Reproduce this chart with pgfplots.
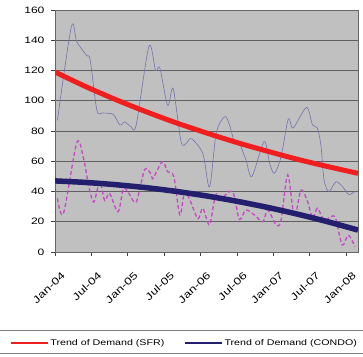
\documentclass[border=0pt]{standalone}
\usepackage{fontspec}
\setmainfont{Liberation Sans}[FakeStretch=1.3]
\usepackage{pgfplots}
\pgfplotsset{compat=1.18}
\definecolor{bgc}{RGB}{192,192,192}
\definecolor{gridc}{RGB}{95,95,95}
\definecolor{sfrc}{RGB}{115,115,175}
\definecolor{condoc}{RGB}{200,70,200}
\definecolor{trsfr}{RGB}{240,30,30}
\definecolor{trcondo}{RGB}{35,30,110}
\begin{document}
\begin{tikzpicture}[x=1pt,y=1pt]
\useasboundingbox (0,0) rectangle (363,356);
\begin{axis}[
  at={(55pt,104pt)}, anchor=south west,
  scale only axis, width=303pt, height=242pt,
  xmin=0, xmax=50, ymin=0, ymax=160,
  ytick={0,20,...,160},
  xtick={0,6,...,48},
  xticklabels={Jan-04,Jul-04,Jan-05,Jul-05,Jan-06,Jul-06,Jan-07,Jul-07,Jan-08},
  axis background/.style={fill=bgc},
  ymajorgrids,
  major grid style={color=gridc, line width=0.8pt},
  axis line style={draw=gray!80!black, line width=0.8pt},
  tick align=outside, xtick pos=bottom, ytick pos=left,
  major tick length=4pt,
  tick style={color=gray!50!black, line width=0.6pt},
  tick label style={font=\fontsize{9.3}{11}\selectfont},
  /pgf/number format/assume math mode=true,
  yticklabel style={xshift=-3pt},
  xticklabel style={font=\fontsize{10}{12}\selectfont, xshift=11pt, yshift=-16pt, rotate=43, anchor=east},
  legend columns=2,
  legend style={at={(rel axis cs:-0.155,-0.376)}, anchor=west,
    draw=none, fill=none, inner xsep=2pt, inner ysep=0pt,
    font=\fontsize{8.2}{10}\selectfont,
    /tikz/every even column/.append style={column sep=18pt}},
  legend image code/.code={\draw[#1,line width=1.2pt] (0pt,0pt) -- (37pt,0pt);},
]
\addplot[sfrc, line width=0.6pt, smooth, tension=0.5, forget plot] coordinates {
(0.4,87) (2.7,149) (3.6,139) (5.2,130) (5.8,127) (6.9,94) (7.8,92) (9.6,91)
(10.7,84) (11.5,86) (12.5,83) (13.4,84) (15.5,136) (16.6,120) (17.3,121.6)
(18.6,97) (19.5,108) (20.8,73) (21.7,72) (22.5,75) (24.4,65) (25.5,43)
(26.6,78.5) (28,89.5) (28.8,84) (29.6,73) (30.4,72) (31.5,61) (32.5,50)
(34.5,73) (35.4,59) (36.2,52) (37.3,63) (38.5,88) (39.3,82) (41.5,95.6)
(42.5,84) (43.3,82) (43.9,70) (44.4,47.6) (45.2,40) (46.4,46.5) (47.7,42)
(48.5,38) (49.5,40)
};
\addplot[condoc, line width=1.3pt, dash pattern=on 4pt off 2.5pt, smooth, tension=0.5, forget plot] coordinates {
(0.4,35.5) (1.4,25.6) (3.6,72.3) (4.7,62) (5.6,43) (6.4,33) (7.4,46.5)
(8.2,34) (9.0,38.8) (10.4,26.6) (11.3,42) (12.2,38.8) (13.4,33) (14.8,54.6)
(15.9,51) (16.2,48.7) (17.7,59.7) (18.6,53) (19.6,50) (20.6,24.5) (21.4,40)
(22.4,33) (23.6,22) (24.4,29) (25.5,18) (26.5,37.7) (27.4,35.5) (29.3,40)
(30.4,21.6) (31.5,27.8) (32.9,24.5) (34.3,20) (35.1,27.8) (36.5,17.9)
(37.3,21) (38.4,51) (39.5,23.4) (40.6,41) (41.7,33) (42.5,22.3) (43.3,28.9)
(44.4,21) (45.5,23.4) (46.3,22.3) (47.4,4.6) (48.4,11.2) (49.5,3.5)
};
\addplot[trsfr, line width=5pt, smooth] coordinates {
(0,119) (5,109.5) (10,100.8) (15,92.8) (20,85.4) (25,78.7) (30,72.4)
(35,66.7) (40,61.3) (45,56.5) (50,52.0)
};
\addlegendentry{Trend of Demand (SFR)}
\addplot[trcondo, line width=5.5pt, smooth] coordinates {
(0,47) (5,46.0) (10,44.5) (15,42.55) (20,40.06) (25,37.06) (30,33.56)
(35,29.55) (40,25.04) (45,20.02) (50,14.5)
};
\addlegendentry{Trend of Demand (CONDO)}
\end{axis}
\draw[gray, line width=0.6pt] (-2,3) rectangle (365,26);
\end{tikzpicture}
\end{document}
